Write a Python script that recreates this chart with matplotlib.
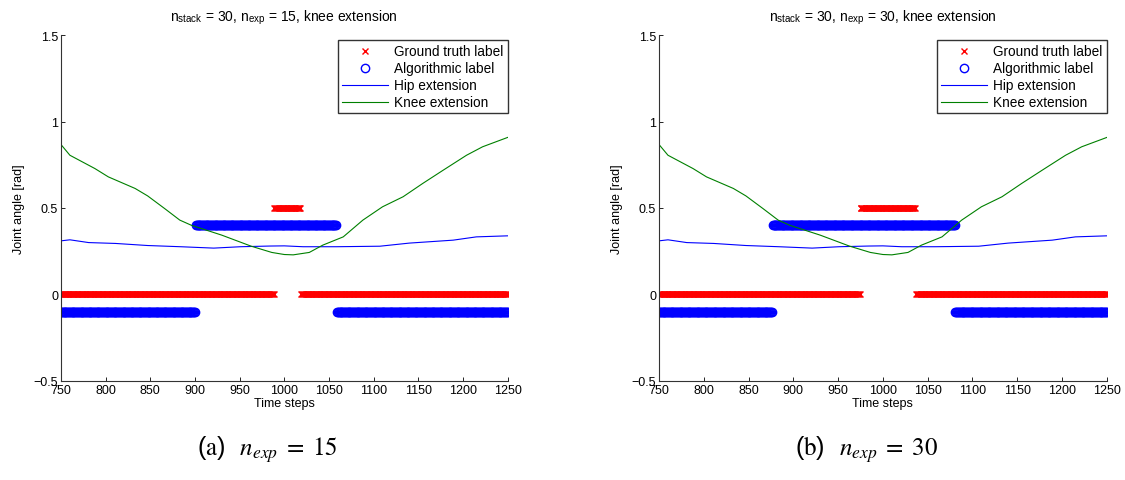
import numpy as np
import matplotlib.pyplot as plt

plt.rcParams['font.family'] = ['Liberation Sans', 'DejaVu Sans']
plt.rcParams['mathtext.fontset'] = 'stix'

# Joint angle traces (time step, angle in rad)
hip_t = [750, 760, 781, 811, 847, 884, 921, 951, 984, 1000, 1021, 1058, 1107, 1140, 1189, 1215, 1250]
hip_a = [0.310, 0.316, 0.300, 0.295, 0.283, 0.276, 0.268, 0.276, 0.280, 0.281, 0.276, 0.276, 0.279, 0.297, 0.314, 0.333, 0.339]

knee_t = [750, 760, 788, 803, 833, 847, 866, 883, 896, 930, 963, 986, 1000, 1010, 1028, 1043,
          1066, 1088, 1110, 1133, 1155, 1178, 1204, 1222, 1250]
knee_a = [0.867, 0.805, 0.728, 0.680, 0.613, 0.570, 0.497, 0.430, 0.400, 0.343, 0.279, 0.243, 0.231,
          0.229, 0.243, 0.285, 0.333, 0.430, 0.507, 0.565, 0.642, 0.719, 0.805, 0.854, 0.908]

# Label segments per panel: (first step, last step) where the label is "on"
gt_on = [(989, 1018), (975, 1036)]
alg_on = [(901, 1058), (877, 1080)]
n_exp = [15, 30]
panel = ['a', 'b']

steps = np.arange(750, 1251)


def draw_panel(ax, gt_seg, alg_seg, nexp):
    gt = np.where((steps >= gt_seg[0]) & (steps <= gt_seg[1]), 0.5, 0.0)
    alg = np.where((steps >= alg_seg[0]) & (steps <= alg_seg[1]), 0.4, -0.1)

    ax.plot(steps, gt, 'x', color='red', ms=5, mew=1, label='Ground truth label')
    ax.plot(steps, alg, 'o', color='blue', mfc='none', ms=6, mew=1, label='Algorithmic label')
    ax.plot(hip_t, hip_a, color='blue', lw=0.8, label='Hip extension')
    ax.plot(knee_t, knee_a, color=(0, 0.5, 0), lw=0.8, label='Knee extension')

    ax.set_xlim(750, 1250)
    ax.set_ylim(-0.5, 1.5)
    ax.set_xticks(np.arange(750, 1251, 50))
    ax.set_yticks([-0.5, 0, 0.5, 1, 1.5])
    ax.set_yticklabels(['\u22120.5', '0', '0.5', '1', '1.5'])
    ax.spines['top'].set_visible(False)
    ax.spines['right'].set_visible(False)
    for s in ['left', 'bottom']:
        ax.spines[s].set_color('#333333')
        ax.spines[s].set_linewidth(0.8)
    ax.tick_params(direction='in', length=3, width=0.6, labelsize=9, pad=2)
    ax.set_xlabel('Time steps', fontsize=9, labelpad=1)
    ax.set_ylabel('Joint angle [rad]', fontsize=9, labelpad=6)
    ax.set_title(r'n$_\mathregular{stack}$ = 30, n$_\mathregular{exp}$ = %d, knee extension' % nexp,
                 fontsize=10, pad=11)
    leg = ax.legend(loc='upper right', bbox_to_anchor=(1.0, 0.985), fontsize=9.8,
                    frameon=True, fancybox=False, borderaxespad=0.0, handlelength=3.4,
                    labelspacing=0.22, borderpad=0.3, handletextpad=0.45)
    leg.get_frame().set_edgecolor('black')
    leg.get_frame().set_linewidth(1.0)


fig = plt.figure(figsize=(11.25, 4.81), dpi=100)
ax1 = fig.add_axes([0.0542, 0.206, 0.397, 0.719])
ax2 = fig.add_axes([0.5858, 0.206, 0.398, 0.719])

for ax, gseg, aseg, ne, p in zip([ax1, ax2], gt_on, alg_on, n_exp, panel):
    draw_panel(ax, gseg, aseg, ne)
    pos = ax.get_position()
    fig.text(pos.x0 + pos.width / 2 - 0.015, 0.066,
             r'($\mathrm{%s}$)$\;\;\;n_{exp}\;=\;%d$' % (p, ne),
             ha='center', va='center', fontsize=18)

fig.savefig('out.png', dpi=100)
